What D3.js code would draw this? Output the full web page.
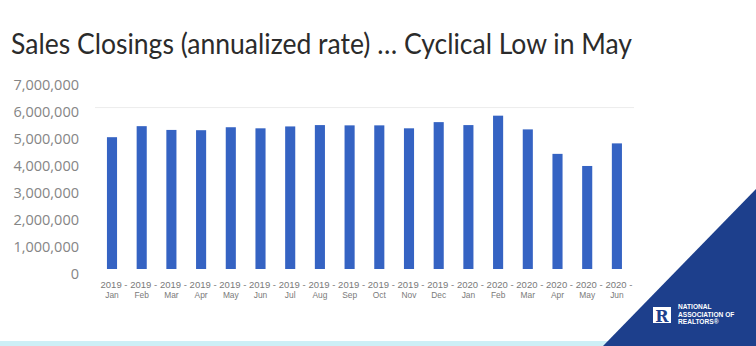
<!DOCTYPE html>
<html><head><meta charset="utf-8">
<script src="https://cdn.jsdelivr.net/npm/d3@7"></script>
<style>html,body{margin:0;padding:0;background:#fff;} svg{display:block;}</style>
</head><body>
<svg id="c" width="756" height="346"></svg>
<script>
const years = ["2019","2019","2019","2019","2019","2019","2019","2019","2019","2019","2019","2019","2020","2020","2020","2020","2020","2020"];
const months = ["Jan","Feb","Mar","Apr","May","Jun","Jul","Aug","Sep","Oct","Nov","Dec","Jan","Feb","Mar","Apr","May","Jun"];
const sales = [4900000,5310000,5170000,5160000,5270000,5230000,5300000,5350000,5340000,5340000,5230000,5460000,5350000,5700000,5190000,4280000,3830000,4670000];
const yTicks = [0,1000000,2000000,3000000,4000000,5000000,6000000,7000000];
const gridValues = [6000000];
const title = "Sales Closings (annualized rate) \u2026 Cyclical Low in May";
const logoLines = ["NATIONAL","ASSOCIATION OF","REALTORS\u00AE"];

const svg = d3.select("#c");
const cats = months.map((m,i)=>i);
const x = d3.scaleBand().domain(cats).range([97.15, 631.75]).paddingInner(0.66).paddingOuter(0.33);
const y = d3.scaleLinear().domain([0,7000000]).range([269, 80.7]);

// title
svg.append("text").attr("x",11).attr("y",54)
  .attr("font-family","Lato, 'Open Sans', sans-serif").attr("font-size",28)
  .attr("fill","#2b2b2b").attr("textLength",621).attr("lengthAdjust","spacingAndGlyphs")
  .text(title);

// gridlines
svg.append("g").selectAll("line").data(gridValues).join("line")
  .attr("x1",95).attr("x2",634).attr("y1",d=>y(d)).attr("y2",d=>y(d))
  .attr("stroke","#ececec").attr("stroke-width",1);

// y axis
const yAxis = d3.axisLeft(y).tickValues(yTicks).tickSize(0).tickPadding(0)
  .tickFormat(d3.format(","));
const ya = svg.append("g").attr("transform","translate(79,0)").call(yAxis);
ya.select(".domain").remove();
ya.selectAll("text").attr("font-family","'Open Sans', sans-serif").attr("font-size",14.5)
  .attr("fill","#858585").attr("dy","0.62em");

// bars
svg.append("g").selectAll("rect").data(sales).join("rect")
  .attr("x",(d,i)=>x(i)).attr("width",x.bandwidth())
  .attr("y",d=>y(d)).attr("height",d=>y(0)-y(d))
  .attr("fill","#3563c3");

// x axis
const xAxis = d3.axisBottom(x).tickSize(0).tickFormat(()=> "");
const xa = svg.append("g").attr("transform","translate(0,269)").call(xAxis);
xa.select(".domain").remove();
xa.selectAll(".tick").each(function(d){
  const g = d3.select(this);
  g.select("text").remove();
  g.append("text").attr("text-anchor","middle").attr("x",2).attr("y",18.5)
    .attr("font-family","'Liberation Sans', Arial, sans-serif").attr("font-size",8.4).attr("fill","#7a7a7a")
    .attr("textLength",27).attr("lengthAdjust","spacingAndGlyphs")
    .text(years[d]+" -");
  g.append("text").attr("text-anchor","middle").attr("x",0).attr("y",28.5)
    .attr("font-family","'Liberation Sans', Arial, sans-serif").attr("font-size",8.4).attr("fill","#7a7a7a")
    .text(months[d]);
});

// bottom strip
svg.append("rect").attr("x",0).attr("y",341).attr("width",610).attr("height",5).attr("fill","#cdeff6");
// logo triangle
svg.append("path").attr("d","M603,346 L756,189 L756,346 Z").attr("fill","#1d3f8c");
svg.append("rect").attr("x",653).attr("y",307).attr("width",18).attr("height",16).attr("fill","#ffffff");
svg.append("text").attr("x",662).attr("y",321.5).attr("text-anchor","middle")
  .attr("font-family","'DejaVu Serif', serif").attr("font-weight","bold").attr("font-size",16)
  .attr("fill","#1d3f8c").text("R");
svg.append("g").selectAll("text").data(logoLines).join("text")
  .attr("x",678).attr("y",(d,i)=>309+i*7.6)
  .attr("font-family","'Liberation Sans', Arial, sans-serif").attr("font-weight","bold").attr("font-size",6.6)
  .attr("fill","#ffffff").text(d=>d);
</script>
</body></html>
